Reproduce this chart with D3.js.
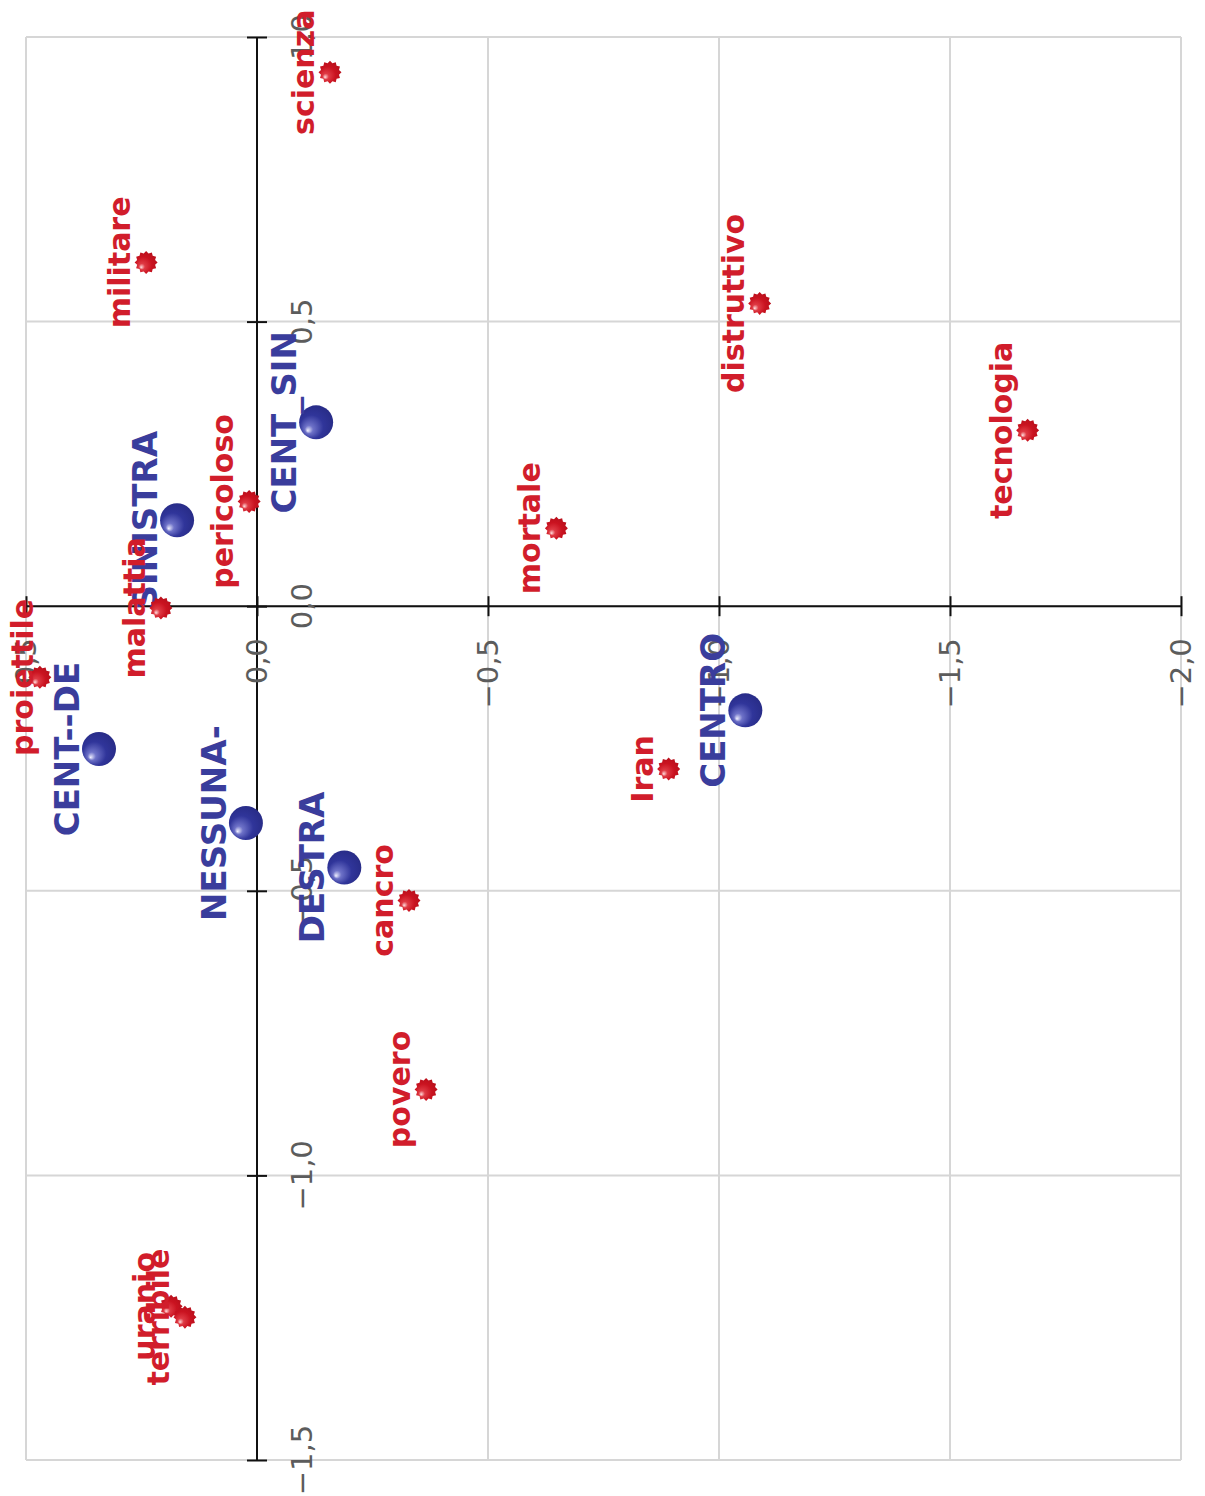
<!DOCTYPE html>
<html>
<head>
<meta charset="utf-8">
<script src="https://cdn.jsdelivr.net/npm/d3@7"></script>
<style>
  body { margin: 0; background: #fff; }
  svg { display: block; }
</style>
</head>
<body>
<svg id="chart" width="1205" height="1496"></svg>
<script>
// Correspondence-analysis map (factor 1 runs vertically, factor 2 horizontally)

// Word categories (red stars)
const wordLabels = ["scienza", "militare", "distruttivo", "tecnologia", "pericoloso", "mortale",
                    "malattia", "proiettile", "Iran", "cancro", "povero", "uranio", "terribile"];
const wordDim1 = [0.938, 0.604, 0.532, 0.309, 0.184, 0.137, -0.003, -0.125, -0.286, -0.517, -0.849, -1.230, -1.249];
const wordDim2 = [-0.158, 0.240, -1.088, -1.668, 0.017, -0.648, 0.208, 0.470, -0.891, -0.329, -0.366, 0.186, 0.156];

// Political orientation (blue spheres)
const groupLabels = ["CENT_SIN", "SINISTRA", "CENT--DE", "NESSUNA-", "DESTRA", "CENTRO"];
const groupDim1 = [0.323, 0.151, -0.251, -0.381, -0.459, -0.183];
const groupDim2 = [-0.128, 0.173, 0.342, 0.024, -0.189, -1.057];

// Axis ticks
const dim1Ticks = [1.0, 0.5, 0.0, -0.5, -1.0, -1.5];
const dim2Ticks = [0.5, 0.0, -0.5, -1.0, -1.5, -2.0];

const svg = d3.select("#chart");

const y = d3.scaleLinear().domain([1.0, -1.5]).range([37, 1460]);
const x = d3.scaleLinear().domain([0.5, -2.0]).range([26, 1181]);

const fmt = v => (v < 0 ? "\u2212" : "") + Math.abs(v).toFixed(1).replace(".", ",");

// gradients for the shaded markers
const defs = svg.append("defs");
const rg = defs.append("radialGradient").attr("id", "redShade")
  .attr("cx", "45%").attr("cy", "55%").attr("r", "60%").attr("fx", "28%").attr("fy", "72%");
rg.append("stop").attr("offset", "0%").attr("stop-color", "#ffe0e0");
rg.append("stop").attr("offset", "22%").attr("stop-color", "#df3a44");
rg.append("stop").attr("offset", "60%").attr("stop-color", "#ca1320");
rg.append("stop").attr("offset", "100%").attr("stop-color", "#b50f1b");

const bg = defs.append("radialGradient").attr("id", "blueShade")
  .attr("cx", "45%").attr("cy", "55%").attr("r", "60%").attr("fx", "25%").attr("fy", "75%");
bg.append("stop").attr("offset", "0%").attr("stop-color", "#f0f0ff");
bg.append("stop").attr("offset", "20%").attr("stop-color", "#6e72c8");
bg.append("stop").attr("offset", "58%").attr("stop-color", "#30359a");
bg.append("stop").attr("offset", "100%").attr("stop-color", "#272b85");

// grid
const grid = svg.append("g");
grid.selectAll("line.v").data(dim2Ticks).join("line")
  .attr("x1", d => x(d)).attr("x2", d => x(d))
  .attr("y1", y(1.0)).attr("y2", y(-1.5))
  .attr("stroke", "#d6d6d6").attr("stroke-width", 2);
grid.selectAll("line.h").data(dim1Ticks).join("line")
  .attr("y1", d => y(d)).attr("y2", d => y(d))
  .attr("x1", x(0.5)).attr("x2", x(-2.0))
  .attr("stroke", "#d6d6d6").attr("stroke-width", 2);

// axes through the origin, ticks crossing both sides
const x0 = x(0), y0 = y(0);
const vAxis = svg.append("g").attr("transform", `translate(${x0 + 10},0)`)
  .call(d3.axisLeft(y).tickValues(dim1Ticks).tickSize(20).tickFormat(""));
vAxis.select(".domain").remove();
vAxis.selectAll(".tick line").attr("stroke", "#111").attr("stroke-width", 2);

const hAxis = svg.append("g").attr("transform", `translate(0,${y0 - 10})`)
  .call(d3.axisBottom(x).tickValues(dim2Ticks).tickSize(20).tickFormat(""));
hAxis.select(".domain").remove();
hAxis.selectAll(".tick line").attr("stroke", "#111").attr("stroke-width", 2);

svg.append("line").attr("x1", x0).attr("x2", x0).attr("y1", y(1.0)).attr("y2", y(-1.5))
  .attr("stroke", "#111").attr("stroke-width", 2);
svg.append("line").attr("x1", x(0.5)).attr("x2", x(-2.0)).attr("y1", y0).attr("y2", y0)
  .attr("stroke", "#111").attr("stroke-width", 2);

// tick labels (rotated)
const tickFont = { family: "DejaVu Sans", size: 29, color: "#5c5c5c" };
svg.append("g").selectAll("text").data(dim1Ticks).join("text")
  .attr("transform", d => `translate(${x0 + 55},${y(d)}) rotate(-90)`)
  .attr("text-anchor", "middle")
  .attr("font-family", tickFont.family).attr("font-size", tickFont.size).attr("fill", tickFont.color)
  .text(fmt);
svg.append("g").selectAll("text").data(dim2Ticks).join("text")
  .attr("transform", d => `translate(${x(d) + 10},${y0 + 32}) rotate(-90)`)
  .attr("text-anchor", "end")
  .attr("font-family", tickFont.family).attr("font-size", tickFont.size).attr("fill", tickFont.color)
  .text(fmt);

// starburst marker
function starburst(rOut, rIn, n) {
  const pts = [];
  for (let i = 0; i < 2 * n; i++) {
    const a = Math.PI * i / n;
    const r = i % 2 === 0 ? rOut : rIn;
    pts.push([r * Math.cos(a), r * Math.sin(a)]);
  }
  return d3.line().curve(d3.curveLinearClosed)(pts);
}

const groups = groupLabels.map((lab, i) => ({ lab, d1: groupDim1[i], d2: groupDim2[i] }));
const words = wordLabels.map((lab, i) => ({ lab, d1: wordDim1[i], d2: wordDim2[i] }));

// labels sit beside their marker, kept inside the page edge
const labelX = (px, gap, size) => Math.max(px - gap, 10 + size * 0.78);

// blue points + labels
const gBlue = svg.append("g");
gBlue.selectAll("circle").data(groups).join("circle")
  .attr("cx", d => x(d.d2)).attr("cy", d => y(d.d1)).attr("r", 17)
  .attr("fill", "url(#blueShade)");
gBlue.selectAll("text").data(groups).join("text")
  .attr("transform", d => `translate(${labelX(x(d.d2), 20, 34)},${y(d.d1)}) rotate(-90)`)
  .attr("text-anchor", "middle")
  .attr("font-family", "DejaVu Sans").attr("font-weight", "bold").attr("font-size", 34)
  .attr("fill", "#3a3d9c")
  .text(d => d.lab);

// red points + labels
const gRed = svg.append("g");
const starPath = starburst(11.5, 9.3, 12);
gRed.selectAll("path").data(words).join("path")
  .attr("transform", d => `translate(${x(d.d2)},${y(d.d1)})`)
  .attr("d", starPath)
  .attr("fill", "url(#redShade)");
gRed.selectAll("text").data(words).join("text")
  .attr("transform", d => `translate(${labelX(x(d.d2), 16, 30)},${y(d.d1)}) rotate(-90)`)
  .attr("text-anchor", "middle")
  .attr("font-family", "DejaVu Sans").attr("font-weight", "bold").attr("font-size", 30)
  .attr("fill", "#d11d2b")
  .text(d => d.lab);
</script>
</body>
</html>
